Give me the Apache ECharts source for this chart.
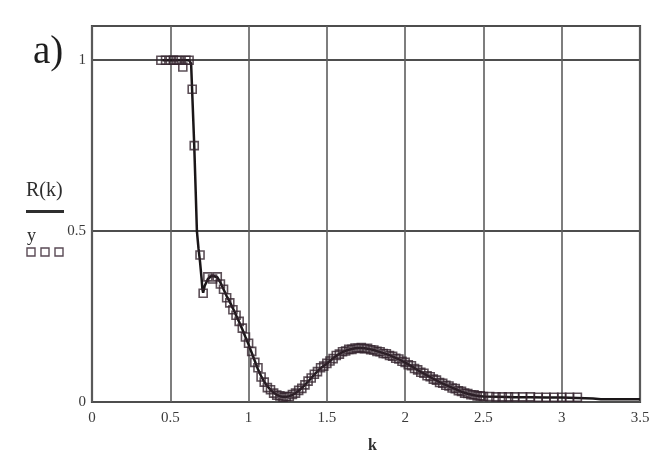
<!DOCTYPE html>
<html>
<head>
<meta charset="utf-8">
<script src="https://cdn.jsdelivr.net/npm/echarts@6/dist/echarts.min.js"></script>
<style>html,body{margin:0;padding:0;background:#fff;}#c{width:668px;height:471px;}</style>
</head>
<body>
<div id="c"></div>
<script>
// Theoretical curve R(k)
const kLine = [0.45,0.50,0.55,0.60,0.62,0.633,0.643,0.653,0.662,0.67,0.68,0.69,0.70,0.705,0.71,0.72,0.74,0.76,0.78,0.80,0.82,0.84,0.86,0.88,0.90,0.92,0.94,0.96,0.98,1.00,1.02,1.04,1.06,1.08,1.10,1.12,1.14,1.16,1.18,1.20,1.22,1.24,1.26,1.28,1.30,1.32,1.34,1.36,1.38,1.40,1.42,1.44,1.46,1.48,1.50,1.52,1.54,1.56,1.58,1.60,1.62,1.64,1.66,1.68,1.70,1.72,1.74,1.76,1.78,1.80,1.82,1.84,1.86,1.88,1.90,1.92,1.94,1.96,1.98,2.00,2.02,2.04,2.06,2.08,2.10,2.12,2.14,2.16,2.18,2.20,2.22,2.24,2.26,2.28,2.30,2.32,2.34,2.36,2.38,2.40,2.42,2.44,2.46,2.48,2.50,2.60,2.70,2.80,2.90,3.00,3.10,3.20,3.25,3.30,3.40,3.50];
const rLine = [1.0,1.0,1.0,1.0,1.0,0.99,0.87,0.75,0.62,0.5,0.45,0.41,0.36,0.33,0.32,0.34,0.36,0.368,0.368,0.365,0.35,0.33,0.31,0.293,0.274,0.254,0.234,0.213,0.19,0.168,0.144,0.12,0.096,0.076,0.059,0.046,0.036,0.027,0.021,0.017,0.015,0.015,0.017,0.021,0.026,0.033,0.041,0.05,0.06,0.07,0.08,0.09,0.099,0.106,0.112,0.12,0.128,0.135,0.141,0.146,0.15,0.153,0.155,0.157,0.158,0.158,0.157,0.156,0.154,0.152,0.149,0.146,0.143,0.14,0.137,0.133,0.129,0.125,0.12,0.115,0.11,0.105,0.099,0.093,0.088,0.083,0.078,0.073,0.068,0.063,0.058,0.054,0.05,0.046,0.042,0.038,0.034,0.03,0.027,0.024,0.022,0.02,0.018,0.017,0.016,0.015,0.014,0.014,0.013,0.013,0.012,0.01,0.008,0.008,0.008,0.008];
// Measured points y
const kPts = [0.44,0.47,0.50,0.52,0.54,0.56,0.58,0.60,0.62,0.64,0.653,0.69,0.71,0.74,0.77,0.80,0.82,0.84,0.86,0.88,0.90,0.92,0.94,0.96,0.98,1.00,1.02,1.04,1.06,1.08,1.10,1.12,1.14,1.16,1.18,1.20,1.22,1.24,1.26,1.28,1.30,1.32,1.34,1.36,1.38,1.40,1.42,1.44,1.46,1.48,1.50,1.52,1.54,1.56,1.58,1.60,1.62,1.64,1.66,1.68,1.70,1.72,1.74,1.76,1.78,1.80,1.82,1.84,1.86,1.88,1.90,1.92,1.94,1.96,1.98,2.00,2.02,2.04,2.06,2.08,2.10,2.12,2.14,2.16,2.18,2.20,2.22,2.24,2.26,2.28,2.30,2.32,2.34,2.36,2.38,2.40,2.42,2.44,2.46,2.48,2.50,2.54,2.58,2.62,2.66,2.70,2.75,2.80,2.85,2.90,2.95,3.00,3.05,3.10];
const yPts = [1.0,1.0,1.0,1.0,1.0,1.0,0.98,1.0,1.0,0.915,0.75,0.43,0.318,0.366,0.36,0.366,0.345,0.33,0.305,0.29,0.27,0.254,0.236,0.216,0.19,0.172,0.148,0.116,0.1,0.073,0.058,0.042,0.036,0.026,0.02,0.018,0.014,0.016,0.016,0.022,0.026,0.034,0.04,0.05,0.061,0.07,0.081,0.089,0.1,0.105,0.113,0.12,0.127,0.136,0.14,0.147,0.149,0.154,0.154,0.158,0.157,0.159,0.156,0.157,0.153,0.152,0.148,0.147,0.142,0.141,0.136,0.134,0.128,0.126,0.119,0.116,0.109,0.106,0.098,0.094,0.087,0.084,0.077,0.074,0.067,0.064,0.057,0.055,0.049,0.047,0.041,0.039,0.033,0.031,0.026,0.025,0.021,0.021,0.018,0.018,0.016,0.016,0.015,0.015,0.015,0.015,0.015,0.015,0.014,0.014,0.014,0.014,0.014,0.014];
const xTicks = [0,0.5,1,1.5,2,2.5,3,3.5];
const yTicks = [0,0.5,1];

const chart = echarts.init(document.getElementById('c'), null, {renderer:'canvas'});
const serif = '"Liberation Serif","DejaVu Serif",serif';
chart.setOption({
  animation:false,
  backgroundColor:'#ffffff',
  grid:{left:92,right:28,top:26,bottom:69,show:true,borderColor:'#4a4a4a',borderWidth:2.2,backgroundColor:'transparent'},
  xAxis:{type:'value',min:0,max:3.5,interval:0.5,
    axisLine:{show:false},axisTick:{show:false},
    splitLine:{show:true,lineStyle:{color:'#5e5e5e',width:1.6}},
    axisLabel:{margin:9,color:'#3a3a3a',fontFamily:serif,fontSize:15,
      formatter:v=>xTicks.includes(+v.toFixed(2))?String(+v.toFixed(2)):''}},
  yAxis:{type:'value',min:0,max:1.1,interval:0.5,
    axisLine:{show:false},axisTick:{show:false},
    splitLine:{show:true,lineStyle:{color:'#4e4e4e',width:2}},
    axisLabel:{margin:6,color:'#3a3a3a',fontFamily:serif,fontSize:15,showMaxLabel:false,
      formatter:v=>yTicks.includes(+v.toFixed(2))?String(+v.toFixed(2)):''}},
  series:[
    {type:'line',name:'R(k)',data:kLine.map((k,i)=>[k,rLine[i]]),showSymbol:false,
      lineStyle:{color:'#1a1618',width:2.5},z:3},
    {type:'scatter',name:'y',data:kPts.map((k,i)=>[k,yPts[i]]),symbol:'rect',symbolSize:8,
      itemStyle:{color:'rgba(0,0,0,0)',borderColor:'#33232d',borderWidth:1.6},z:4}
  ],
  graphic:[
    {type:'text',left:33,top:33,style:{text:'a)',font:'39px '+serif,fill:'#1e1e1e'}},
    {type:'text',left:26,top:181,style:{text:'R(k)',font:'20px '+serif,fill:'#2e2e2e'}},
    {type:'rect',shape:{x:26,y:210,width:38,height:3},style:{fill:'#2e2e2e'}},
    {type:'text',left:27,top:227,style:{text:'y',font:'18px '+serif,fill:'#2e2e2e'}},
    {type:'rect',shape:{x:27,y:248,width:8,height:8},style:{fill:'none',stroke:'#5a4a55',lineWidth:1.4}},
    {type:'rect',shape:{x:41,y:248,width:8,height:8},style:{fill:'none',stroke:'#5a4a55',lineWidth:1.4}},
    {type:'rect',shape:{x:55,y:248,width:8,height:8},style:{fill:'none',stroke:'#5a4a55',lineWidth:1.4}},
    {type:'text',left:368,top:438,style:{text:'k',font:'bold 16px '+serif,fill:'#2e2e2e'}}
  ]
});
</script>
</body>
</html>
